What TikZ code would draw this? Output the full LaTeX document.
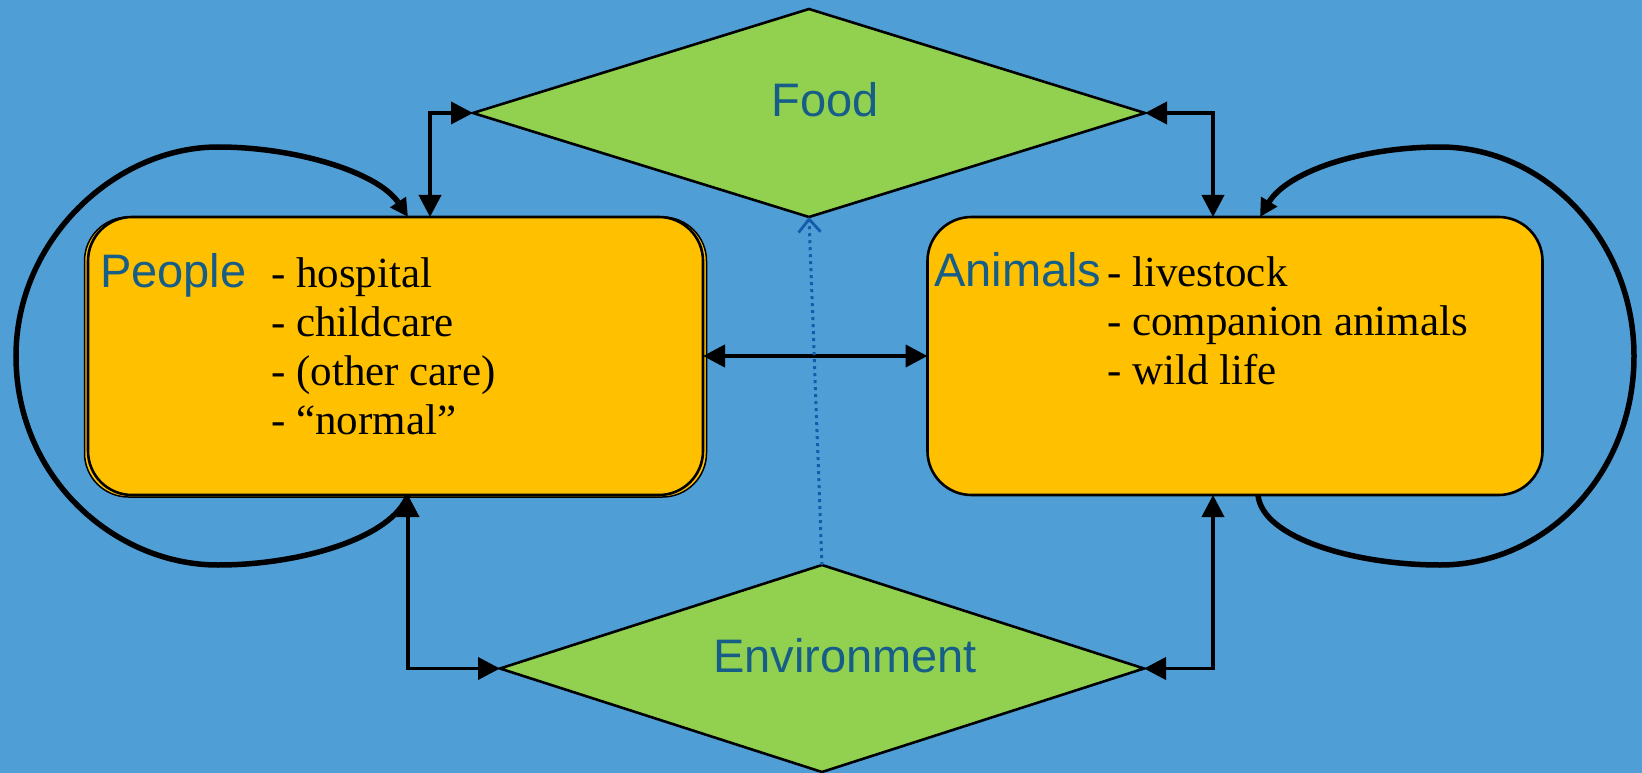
\documentclass[tikz,border=0pt]{standalone}
\usepackage{fontspec}
\setmainfont{Liberation Serif}
\newfontfamily\lblfont{Liberation Sans}
\usetikzlibrary{arrows.meta,shapes.geometric,calc}
\definecolor{bgblue}{RGB}{79,158,214}
\definecolor{boxorange}{RGB}{255,192,0}
\definecolor{dgreen}{RGB}{146,208,80}
\definecolor{lbltext}{RGB}{22,94,136}
\definecolor{dotblue}{RGB}{20,92,170}
\begin{document}
\begin{tikzpicture}[x=1pt,y=-1pt,
  box/.style={draw=black,line width=2.6pt,fill=boxorange,rounded corners=44pt,
    minimum width=615pt,minimum height=278pt,inner sep=0pt,outer sep=0pt},
  dia/.style={diamond,draw=black,line width=2.6pt,fill=dgreen,inner sep=0pt,outer sep=0pt},
  title/.style={font=\lblfont\fontsize{47}{56}\selectfont,text=lbltext,inner sep=0pt},
  item/.style={font=\fontsize{43}{50}\selectfont,inner sep=0pt,anchor=base west},
  elb/.style={line width=3.8pt,{Triangle[length=22pt,width=22pt]}-{Triangle[length=22pt,width=22pt]}},
  loopline/.style={line width=5.5pt,-{Triangle[length=18pt,width=18pt]}},
  dotline/.style={dotblue,line width=3pt,dash pattern=on 3pt off 4pt,
    -{Straight Barb[length=13pt,width=22pt,line width=2.8pt]}}
]
\useasboundingbox (0,0) rectangle (1642,773);
\fill[bgblue] (0,0) rectangle (1642,773);

% boxes
\node[box,line width=1.5pt,minimum width=622pt,minimum height=280pt] (Pback) at (395.5,357) {};
\node[box] (P) at (395.5,356) {};
\node[box] (A) at (1235,356) {};

% diamonds
\node[dia,minimum width=672pt,minimum height=208pt] (F) at (809,113) {};
\node[dia,minimum width=644pt,minimum height=207pt] (E) at (822,668.5) {};

% labels
\node[title,anchor=base] (Flbl) at (825,117) {Food};
\node[title,anchor=base] (Elbl) at (845,672) {Environment};
\node[title,anchor=base west] (Plbl) at (100,287) {People};
\node[title,anchor=base west] (Albl) at (934,286) {Animals};

\node[item] (p1) at (271,287) {- hospital};
\node[item] (p2) at (271,336) {- childcare};
\node[item] (p3) at (271,385) {- (other care)};
\node[item] (p4) at (271,434) {- “normal”};

\node[item] (a1) at (1107,286) {- livestock};
\node[item] (a2) at (1107,335) {- companion animals};
\node[item] (a3) at (1107,384) {- wild life};

% connectors
\draw[elb] ($(P.north)+(34.5,0)$) |- (F.west);
\draw[elb] (F.east) -| ($(A.north)+(-22,0)$);
\draw[elb] ($(P.south)+(12.5,0)$) |- (E.west);
\draw[elb] (E.east) -| ($(A.south)+(-22,0)$);
\draw[elb,line width=4.2pt] (P.east) -- (A.west);
\draw[dotline] (E.north) -- (F.south);

% loops
\draw[loopline] ($(P.south)+(12.5,0)$) .. controls (392,538) and (300,565) .. (218,565)
  .. controls (115,565) and (16,478) .. (16,356)
  .. controls (16,240) and (115,147) .. (218,147)
  .. controls (295,147) and (378,172) .. ($(P.north)+(12.5,0)$);
\draw[loopline] ($(A.south)+(23,0)$) .. controls (1262,538) and (1355,565) .. (1440,565)
  .. controls (1545,565) and (1634,475) .. (1634,356)
  .. controls (1634,240) and (1545,147) .. (1440,147)
  .. controls (1360,147) and (1287,172) .. ($(A.north)+(25,0)$);
\end{tikzpicture}
\end{document}
